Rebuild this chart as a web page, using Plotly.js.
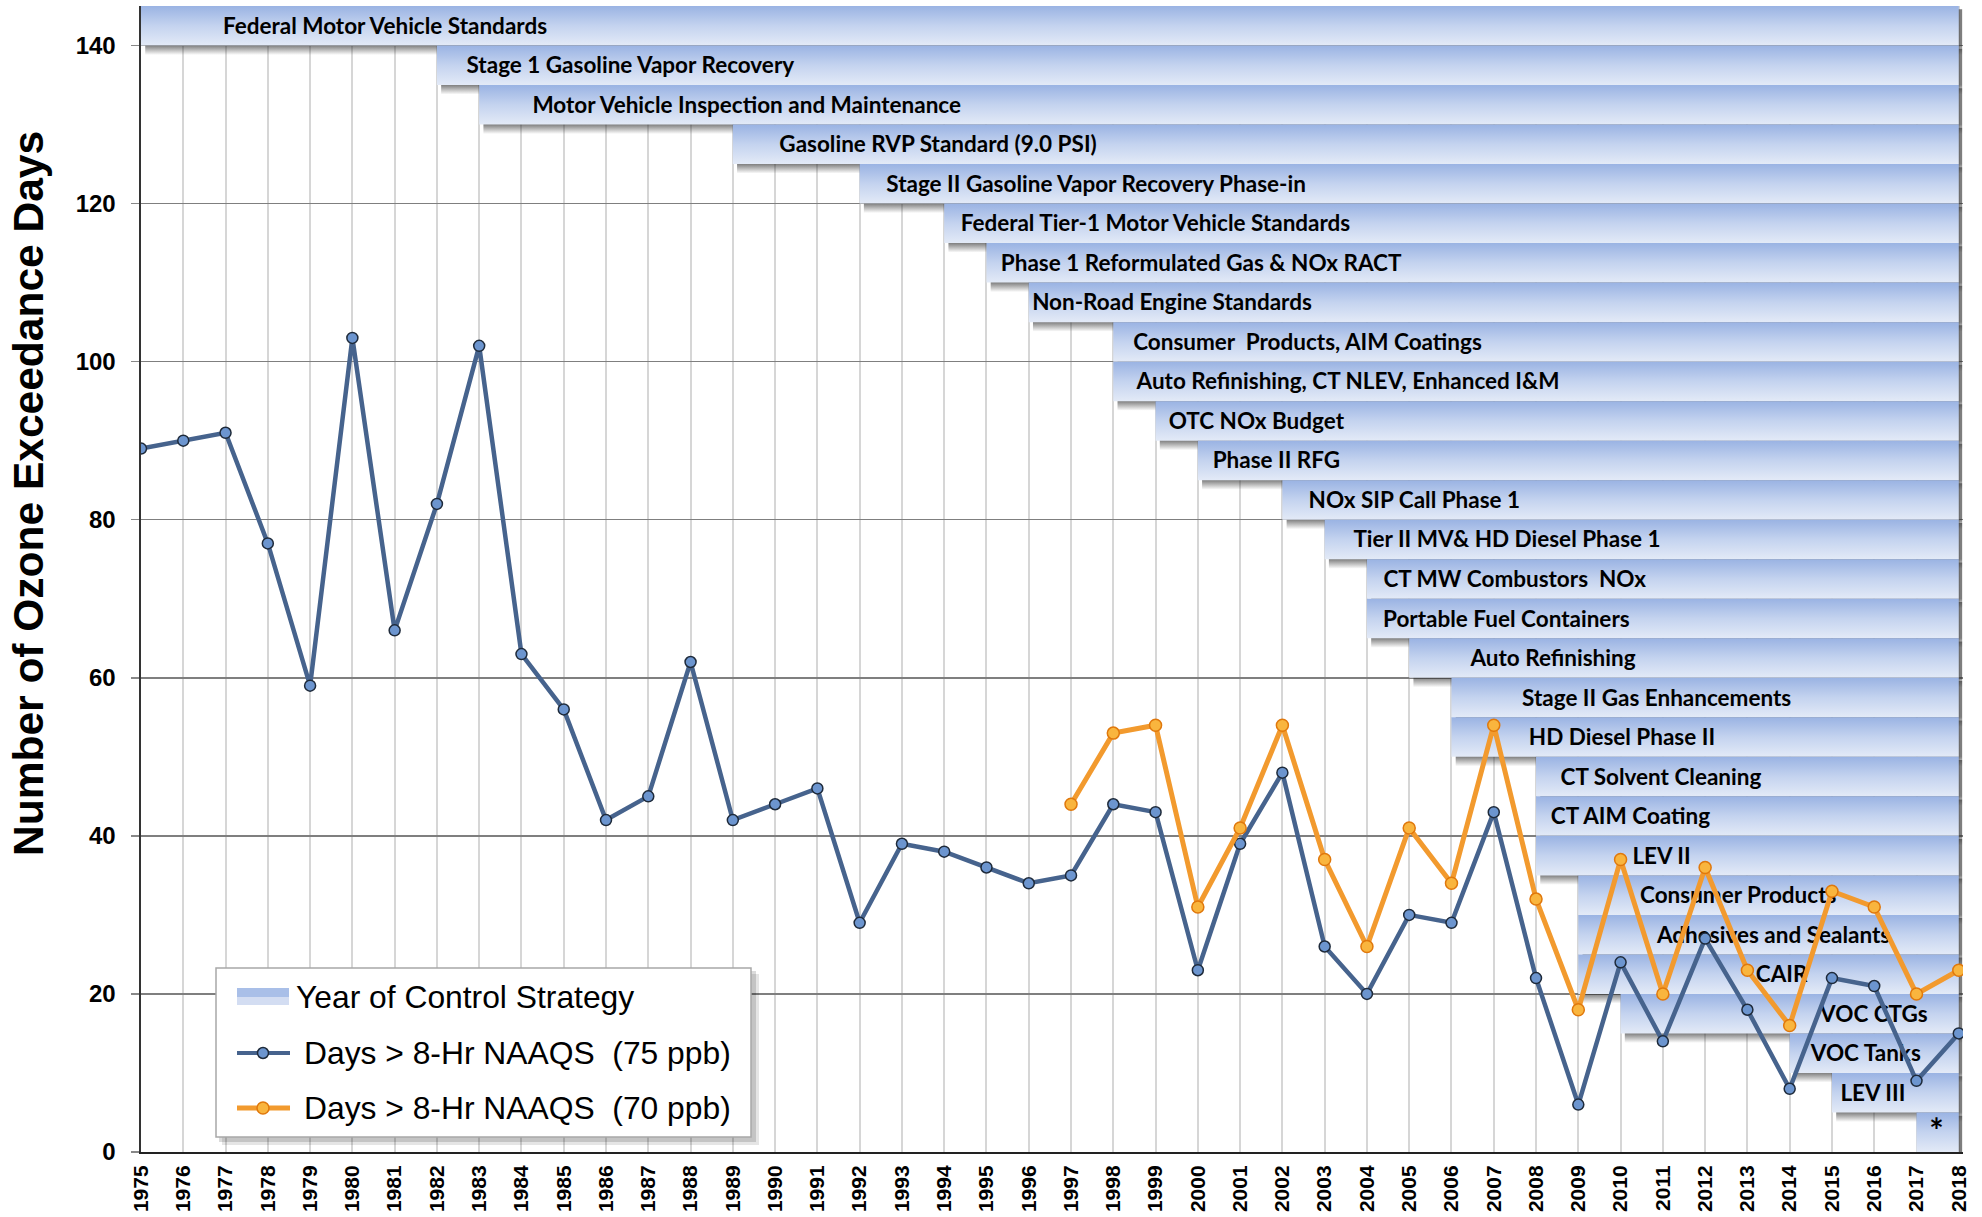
<!DOCTYPE html>
<html><head><meta charset="utf-8">
<script src="https://cdn.plot.ly/plotly-3.0.1.min.js"></script>
<style>html,body{margin:0;padding:0;background:#fff;} #chart{width:1982px;height:1217px;}</style>
</head><body><div id="chart"></div>
<script>
// ---- data ----
const years = [1975,1976,1977,1978,1979,1980,1981,1982,1983,1984,1985,1986,1987,1988,1989,1990,1991,1992,1993,1994,1995,1996,1997,1998,1999,2000,2001,2002,2003,2004,2005,2006,2007,2008,2009,2010,2011,2012,2013,2014,2015,2016,2017,2018];
const days75 = [89,90,91,77,59,103,66,82,102,63,56,42,45,62,42,44,46,29,39,38,36,34,35,44,43,23,39,48,26,20,30,29,43,22,6,24,14,27,18,8,22,21,9,15];
const years70 = [1997,1998,1999,2000,2001,2002,2003,2004,2005,2006,2007,2008,2009,2010,2011,2012,2013,2014,2015,2016,2017,2018];
const days70 = [44,53,54,31,41,54,37,26,41,34,54,32,18,37,20,36,23,16,33,31,20,23];

const strategyNames = [
  "Federal Motor Vehicle Standards",
  "Stage 1 Gasoline Vapor Recovery",
  "Motor Vehicle Inspection and Maintenance",
  "Gasoline RVP Standard (9.0 PSI)",
  "Stage II Gasoline Vapor Recovery Phase-in",
  "Federal Tier-1 Motor Vehicle Standards",
  "Phase 1 Reformulated Gas & NOx RACT",
  "Non-Road Engine Standards",
  "Consumer  Products, AIM Coatings",
  "Auto Refinishing, CT NLEV, Enhanced I&M",
  "OTC NOx Budget",
  "Phase II RFG",
  "NOx SIP Call Phase 1",
  "Tier II MV& HD Diesel Phase 1",
  "CT MW Combustors  NOx",
  "Portable Fuel Containers",
  "Auto Refinishing",
  "Stage II Gas Enhancements",
  "HD Diesel Phase II",
  "CT Solvent Cleaning",
  "CT AIM Coating",
  "LEV II",
  "Consumer Products",
  "Adhesives and Sealants",
  "CAIR",
  "VOC CTGs",
  "VOC Tanks",
  "LEV III",
  "*"
];
const strategyStart = [1975,1982,1983,1989,1992,1994,1995,1996,1998,1998,1999,2000,2002,2003,2004,2004,2005,2006,2006,2008,2008,2008,2009,2009,2009,2010,2014,2015,2017];
const strategyLabelX = [1976.94,1982.70,1984.26,1990.10,1992.63,1994.39,1995.34,1996.08,1998.47,1998.55,1999.31,2000.35,2002.62,2003.68,2004.39,2004.38,2006.45,2007.67,2007.83,2008.58,2008.35,2010.28,2010.46,2010.86,2013.2,2014.72,2014.5,2015.2,2017.3];
const strategyTop = [145,140,135,130,125,120,115,110,105,100,95,90,85,80,75,70,65,60,55,50,45,40,35,30,25,20,15,10,5];
const strategyHeight = 5;
const strategyEnd = 2018;
const yTicks = [0,20,40,60,80,100,120,140];

// ---- figure ----
const traces = [];
for (let i = 0; i < strategyNames.length; i++) {
  const s = strategyStart[i], top = strategyTop[i], bot = top - strategyHeight;
  // soft drop shadow (bottom-right)
  traces.push({
    type: 'scatter', mode: 'none', fill: 'toself', hoverinfo: 'skip', showlegend: false,
    x: [s + 0.1, strategyEnd + 0.08, strategyEnd + 0.08, s + 0.1, s + 0.1],
    y: [top - 0.4, top - 0.4, bot - 1.2, bot - 1.2, top - 0.4],
    fillgradient: {type: 'vertical', colorscale: [[0, 'rgba(40,40,40,0)'], [0.21, 'rgba(40,40,40,0.6)'], [1, 'rgba(40,40,40,0.6)']]}
  });
  traces.push({
    type: 'scatter', mode: 'none', fill: 'toself', hoverinfo: 'skip', showlegend: false,
    name: strategyNames[i],
    x: [s, strategyEnd, strategyEnd, s, s],
    y: [top, top, bot, bot, top],
    fillgradient: {type: 'vertical', colorscale: [[0, '#e3eaf7'], [0.5, '#c4d3ef'], [1, '#9ab3e3']]}
  });
}
traces.push({
  type: 'scatter', mode: 'text', hoverinfo: 'skip', showlegend: false, cliponaxis: false,
  x: strategyLabelX,
  y: strategyTop.map(t => t - strategyHeight / 2 - 0.3),
  text: strategyNames,
  textposition: 'middle right',
  textfont: {family: 'Lato, "Open Sans", sans-serif', size: strategyNames.map(n => n === '*' ? 34 : 22.5), weight: 700, color: '#000'}
});
traces.push({
  type: 'scatter', mode: 'lines+markers', name: 'Days > 8-Hr NAAQS  (75 ppb)',
  x: years, y: days75,
  line: {color: '#46638d', width: 4.5},
  marker: {symbol: 'circle', size: 11, color: '#6c95cf', line: {color: '#1e2a3a', width: 1.5}}
});
traces.push({
  type: 'scatter', mode: 'lines+markers', name: 'Days > 8-Hr NAAQS  (70 ppb)',
  x: years70, y: days70,
  line: {color: '#f29a2e', width: 5},
  marker: {symbol: 'circle', size: 12, color: '#f9b53e', line: {color: '#e0780c', width: 1.5}}
});

// pixel -> paper helpers for the hand-built legend box
const L = 141, PW = 1822, T = 6, PH = 1146;
const px = v => (v - L) / PW;
const py = v => (T + PH - v) / PH;

const shapes = [
  {type: 'rect', xref: 'paper', yref: 'paper', x0: px(222), x1: px(759), y0: py(1145), y1: py(974), fillcolor: 'rgba(0,0,0,0.10)', line: {width: 0}},
  {type: 'rect', xref: 'paper', yref: 'paper', x0: px(219), x1: px(756), y0: py(1142), y1: py(971), fillcolor: 'rgba(0,0,0,0.14)', line: {width: 0}},
  {type: 'rect', xref: 'paper', yref: 'paper', x0: px(216), x1: px(751), y0: py(1137), y1: py(968), fillcolor: '#ffffff', line: {color: '#a8a8a8', width: 1.5}},
  {type: 'rect', xref: 'paper', yref: 'paper', x0: px(237), x1: px(289), y0: py(1005), y1: py(996), fillcolor: '#d3ddf2', line: {width: 0}},
  {type: 'rect', xref: 'paper', yref: 'paper', x0: px(237), x1: px(289), y0: py(997), y1: py(988), fillcolor: '#a9bfe8', line: {width: 0}},
  {type: 'line', xref: 'paper', yref: 'paper', x0: px(237), x1: px(290), y0: py(1053), y1: py(1053), line: {color: '#46638d', width: 4}},
  {type: 'circle', xref: 'paper', yref: 'paper', x0: px(257.5), x1: px(268.5), y0: py(1058.5), y1: py(1047.5), fillcolor: '#6c95cf', line: {color: '#1e2a3a', width: 1.5}},
  {type: 'line', xref: 'paper', yref: 'paper', x0: px(237), x1: px(290), y0: py(1108), y1: py(1108), line: {color: '#f29a2e', width: 5}},
  {type: 'circle', xref: 'paper', yref: 'paper', x0: px(257), x1: px(269), y0: py(1114), y1: py(1102), fillcolor: '#f9b53e', line: {color: '#e0780c', width: 1.5}}
];
const legFont = {family: '"Liberation Sans", Arial, sans-serif', size: 31.8, color: '#000'};
const annotations = [
  {xref: 'paper', yref: 'paper', x: px(294), y: py(997), xanchor: 'left', yanchor: 'middle', showarrow: false, text: 'Year of Control Strategy', font: legFont},
  {xref: 'paper', yref: 'paper', x: px(302), y: py(1053), xanchor: 'left', yanchor: 'middle', showarrow: false, text: 'Days &gt; 8-Hr NAAQS  (75 ppb)', font: legFont},
  {xref: 'paper', yref: 'paper', x: px(302), y: py(1108), xanchor: 'left', yanchor: 'middle', showarrow: false, text: 'Days &gt; 8-Hr NAAQS  (70 ppb)', font: legFont},
  {xref: 'paper', yref: 'paper', x: px(28), y: py(494), xanchor: 'center', yanchor: 'middle', showarrow: false, textangle: -90,
   text: 'Number of Ozone Exceedance Days', font: {family: '"Liberation Sans", Arial, sans-serif', size: 42.5, weight: 700, color: '#000'}}
];

const layout = {
  width: 1982, height: 1217,
  margin: {l: L, r: 1982 - L - PW, t: T, b: 1217 - T - PH, pad: 0},
  paper_bgcolor: '#fff', plot_bgcolor: '#fff',
  showlegend: false,
  xaxis: {
    range: [1975, 2018.1], tickmode: 'array', tickvals: years, ticktext: years.map(String),
    tickangle: -90, ticks: '', ticklabelstandoff: 3,
    tickfont: {family: '"Liberation Sans", Arial, sans-serif', size: 21, weight: 700, color: '#000'},
    showgrid: true, gridcolor: '#d6d6d6', gridwidth: 2,
    showline: true, linecolor: '#222', linewidth: 2, zeroline: false
  },
  yaxis: {
    range: [0, 145], tickmode: 'array', tickvals: yTicks,
    ticks: 'outside', ticklen: 8, tickcolor: '#888', tickwidth: 1.5, ticklabelstandoff: 10,
    tickfont: {family: '"Liberation Sans", Arial, sans-serif', size: 24, weight: 700, color: '#000'},
    showgrid: true, gridcolor: '#7f7f7f', gridwidth: 1.5,
    showline: true, linecolor: '#333', linewidth: 2.5, zeroline: false
  },
  shapes: shapes,
  annotations: annotations
};

Plotly.newPlot('chart', traces, layout, {displayModeBar: false, staticPlot: true});
</script>
</body></html>
